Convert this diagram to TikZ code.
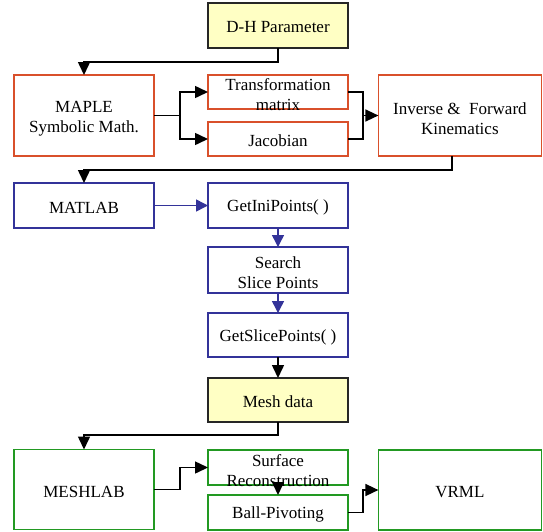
\documentclass[tikz,border=0pt]{standalone}
\usepackage{fontspec}
\setmainfont{Liberation Serif}
\usetikzlibrary{arrows.meta}
\definecolor{redb}{HTML}{D9502B}
\definecolor{blueb}{HTML}{333399}
\definecolor{greenb}{HTML}{229922}
\definecolor{yel}{HTML}{FFFFC4}
\tikzset{
  box/.style={draw, line width=1.4pt, rectangle, inner sep=0pt, outer sep=0pt},
  redbox/.style={box, draw=redb},
  bluebox/.style={box, draw=blueb},
  greenbox/.style={box, draw=greenb},
  yelbox/.style={box, draw=black!85, fill=yel},
  txt/.style={align=center, font=\fontsize{17}{20}\selectfont, inner sep=0pt, text=black},
  conn/.style={draw=black, line width=1.5pt, -{Triangle[length=13pt,width=12pt]}},
  line/.style={draw=black, line width=1.5pt},
  bconn/.style={draw=blueb, line width=1.5pt, -{Triangle[length=12pt,width=12pt]}}
}
\begin{document}
\begin{tikzpicture}[x=1pt,y=-1pt]
\useasboundingbox (0,0) rectangle (543,531);
% boxes
\node[yelbox, minimum width=140pt, minimum height=45pt] (dh) at (278,25.5) {};
\node[redbox, minimum width=140pt, minimum height=81pt] (maple) at (84,115.5) {};
\node[redbox, minimum width=140pt, minimum height=34pt] (tm) at (278,92) {};
\node[redbox, minimum width=140pt, minimum height=34pt] (jac) at (278,139) {};
\node[redbox, minimum width=163pt, minimum height=81pt] (inv) at (459.9,115.5) {};
\node[bluebox, minimum width=140pt, minimum height=45pt] (matlab) at (84,205.5) {};
\node[bluebox, minimum width=140pt, minimum height=45pt] (gip) at (278,205.5) {};
\node[bluebox, minimum width=140pt, minimum height=46pt] (ssp) at (278,270) {};
\node[bluebox, minimum width=140pt, minimum height=44pt] (gsp) at (278,335) {};
\node[yelbox, minimum width=140pt, minimum height=44pt] (mesh) at (278,400) {};
\node[greenbox, minimum width=140pt, minimum height=80pt] (meshlab) at (84,489.5) {};
\node[greenbox, minimum width=140pt, minimum height=35pt] (sr) at (278,467.5) {};
\node[greenbox, minimum width=140pt, minimum height=35pt] (bp) at (278,512.5) {};
\node[greenbox, minimum width=163pt, minimum height=80pt] (vrml) at (459.9,490) {};
% texts
\node[txt] (dht) at ([yshift=-2pt]dh.center) {D-H Parameter};
\node[txt] (maplet) at ([yshift=-3pt]maple.center) {MAPLE\\Symbolic Math.};
\node[txt] (tmt) at ([yshift=-3pt]tm.center) {Transformation\\matrix};
\node[txt] (jact) at ([yshift=-2pt]jac.center) {Jacobian};
\node[txt] (invt) at ([yshift=-3pt]inv.center) {Inverse \&\ \ Forward\\Kinematics};
\node[txt] (matlabt) at ([yshift=-2pt]matlab.center) {MATLAB};
\node[txt] (gipt) at ([yshift=-2pt]gip.center) {GetIniPoints( )};
\node[txt] (sspt) at ([yshift=-3pt]ssp.center) {Search\\Slice Points};
\node[txt] (gspt) at ([yshift=-2pt]gsp.center) {GetSlicePoints( )};
\node[txt] (mesht) at ([yshift=-2pt]mesh.center) {Mesh data};
\node[txt] (meshlabt) at ([yshift=-2pt]meshlab.center) {MESHLAB};
\node[txt] (srt) at ([yshift=-3pt]sr.center) {Surface\\Reconstruction};
\node[txt] (bpt) at ([yshift=-2pt]bp.center) {Ball-Pivoting};
\node[txt] (vrmlt) at ([yshift=-2pt]vrml.center) {VRML};
% connectors
\draw[conn] (dh.south) -- ++(0,14) -| (maple.north);
\coordinate (s1) at (180,115.5);
\draw[line] (maple.east) -- (s1);
\draw[conn] (s1) |- (tm.west);
\draw[conn] (s1) |- (jac.west);
\coordinate (s2) at (363,115.5);
\draw[line] (tm.east) -| (s2);
\draw[line] (jac.east) -| (s2);
\draw[conn] (s2) -- (inv.west);
\draw[conn] ([xshift=-8pt]inv.south) -- ++(0,14) -| (matlab.north);
\draw[bconn] (matlab.east) -- (gip.west);
\draw[bconn] (gip.south) -- (ssp.north);
\draw[bconn] (ssp.south) -- (gsp.north);
\draw[conn] (gsp.south) -- (mesh.north);
\draw[conn] (mesh.south) -- ++(0,13) -| (meshlab.north);
\coordinate (s3) at (180,489.5);
\draw[line] (meshlab.east) -- (s3);
\draw[conn] (s3) |- (sr.west);
\draw[conn] (sr.south) -- (bp.north);
\coordinate (s4) at (363,512.5);
\draw[line] (bp.east) -- (s4);
\draw[conn] (s4) |- (vrml.west);
\end{tikzpicture}
\end{document}
